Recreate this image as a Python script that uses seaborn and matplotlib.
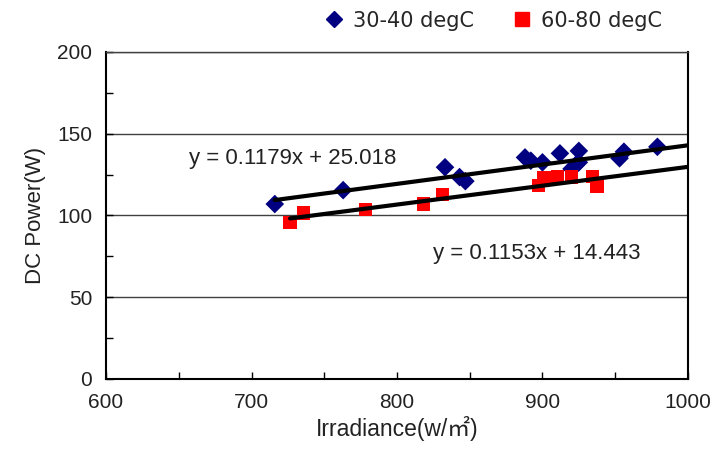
import numpy as np
import pandas as pd
import matplotlib
matplotlib.use('Agg')
from matplotlib import pyplot as plt
from matplotlib.ticker import MultipleLocator
import seaborn as sns

# 30-40 degC
irr_low = [716, 763, 833, 843, 847, 888, 892, 900, 912, 920, 923, 925, 925, 953, 956, 979]
pow_low = [107, 115.5, 129.5, 123.5, 121, 135.5, 133.5, 132.5, 138, 128.5, 131, 139.5, 132.5, 135, 139, 142]
# 60-80 degC
irr_high = [726.5, 735.5, 778.5, 818.5, 831.5, 897, 901, 910.5, 920, 934.5, 937.5]
pow_high = [95.5, 101.5, 103.5, 107, 113, 118.5, 123, 124, 123.5, 124, 118]

groups = ['30-40 degC', '60-80 degC']
slopes = [0.1179, 0.1153]
intercepts = [25.018, 14.443]
colors = ['#000080', '#FF0000']

df = pd.DataFrame({
    'irr': irr_low + irr_high,
    'pow': pow_low + pow_high,
    'grp': [groups[0]] * len(irr_low) + [groups[1]] * len(irr_high),
})

sns.set_style('white')
plt.rcParams['font.family'] = ['Liberation Sans', 'DejaVu Sans']

fig = plt.figure(figsize=(7.14, 4.58), dpi=100)
ax = fig.add_axes([0.1485, 0.1725, 0.815, 0.714])

# horizontal grid
for yv in [50, 100, 150, 200]:
    ax.axhline(yv, color='#404040', lw=1.0, zorder=0)

sns.scatterplot(data=df, x='irr', y='pow', hue='grp', style='grp',
                markers={groups[0]: 'D', groups[1]: 's'},
                palette=dict(zip(groups, colors)),
                s=90, edgecolor='none', ax=ax, zorder=3, legend=False)

# trendlines (forward to 1000)
for xs, m, b in [(irr_low, slopes[0], intercepts[0]), (irr_high, slopes[1], intercepts[1])]:
    xl = np.array([min(xs), 1000])
    ax.plot(xl, m * xl + b, color='black', lw=3, zorder=4)

ax.text(728.5, 135, 'y = 0.1179x + 25.018', fontsize=16, ha='center', va='center', color='#222222')
ax.text(896, 76.5, 'y = 0.1153x + 14.443', fontsize=16, ha='center', va='center', color='#222222')

ax.set_xlim(600, 1000)
ax.set_ylim(0, 200)
ax.xaxis.set_major_locator(MultipleLocator(100))
ax.xaxis.set_minor_locator(MultipleLocator(50))
ax.yaxis.set_major_locator(MultipleLocator(50))
ax.yaxis.set_minor_locator(MultipleLocator(25))
ax.tick_params(which='both', direction='in', length=5, width=1, color='black',
               labelsize=15, labelcolor='#222222', pad=10)
ax.tick_params(axis='x', which='both', top=False, bottom=True)
ax.tick_params(axis='y', which='both', left=True, right=False)
for sp in ax.spines.values():
    sp.set_color('black')
    sp.set_linewidth(1.5)
ax.spines['top'].set_color('#404040')
ax.spines['top'].set_linewidth(1.0)

ax.set_xlabel('Irradiance(w/㎡)', fontsize=16.5, color='#222222', labelpad=3,
              family=['Liberation Sans', 'Noto Sans CJK KR'])
ax.set_ylabel('DC Power(W)', fontsize=16, color='#222222', labelpad=8)

# legend above the plot
handles = [plt.Line2D([], [], marker='D', color=colors[0], ls='none', ms=8),
           plt.Line2D([], [], marker='s', color=colors[1], ls='none', ms=10)]
fig.legend(handles, groups, loc='center', bbox_to_anchor=(0.69, 0.955), ncol=2,
           frameon=False, handlelength=1.0, handletextpad=0.4, columnspacing=1.8,
           prop={'family': 'DejaVu Sans', 'size': 15})

fig.savefig('out.png', dpi=100)
